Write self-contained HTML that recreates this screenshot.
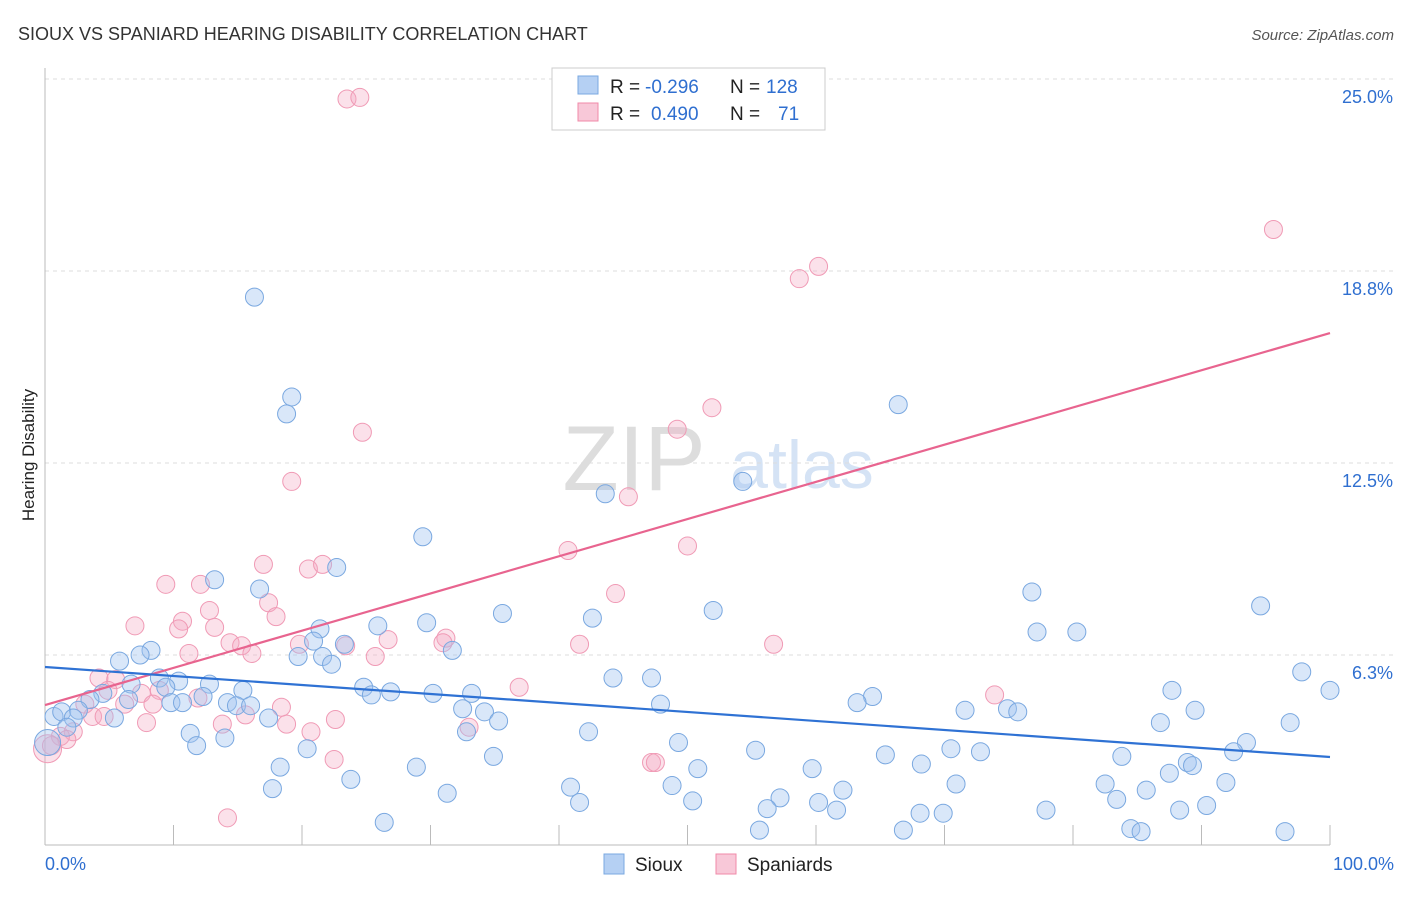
<!DOCTYPE html>
<html><head><meta charset="utf-8"><style>
body{margin:0;background:#fff;font-family:"Liberation Sans",sans-serif}
svg text{font-family:"Liberation Sans",sans-serif}
</style></head><body>
<svg width="1406" height="892" id="chart">
<text x="18" y="40" font-size="18" fill="#333">SIOUX VS SPANIARD HEARING DISABILITY CORRELATION CHART</text>
<text x="1394" y="40" font-size="15" fill="#555" font-style="italic" text-anchor="end">Source: ZipAtlas.com</text>
<text x="34" y="455" font-size="17" fill="#222" text-anchor="middle" transform="rotate(-90 34 455)">Hearing Disability</text>
<g><text x="634" y="490" font-size="92" fill="#ddd" font-family="Liberation Serif" text-anchor="middle">ZIP</text><text x="802" y="488" font-size="68" fill="#d5e3f5" text-anchor="middle">atlas</text></g>
<g id="grid"></g><g id="axes"></g><g id="pts"></g><g id="lines"></g>
<g>
<rect x="552" y="68" width="273" height="62" fill="#fff" stroke="#ccc"/>
<rect x="578" y="76" width="20" height="18" fill="#b5d0f3" stroke="#7aa8e0"/>
<rect x="578" y="103" width="20" height="18" fill="#f8c8d8" stroke="#f08aa8"/>
<text y="93" font-size="19" fill="#222"><tspan x="610">R =</tspan><tspan x="645" fill="#2f6fd0">-0.296</tspan><tspan x="730">N =</tspan><tspan x="766" fill="#2f6fd0">128</tspan></text>
<text y="120" font-size="19" fill="#222"><tspan x="610">R =</tspan><tspan x="651" fill="#2f6fd0">0.490</tspan><tspan x="730">N =</tspan><tspan x="778" fill="#2f6fd0">71</tspan></text>
</g>
<g>
<rect x="604" y="854" width="20" height="20" fill="#b5d0f3" stroke="#7aa8e0"/>
<text x="635" y="871" font-size="19" fill="#222">Sioux</text>
<rect x="716" y="854" width="20" height="20" fill="#f8c8d8" stroke="#f08aa8"/>
<text x="747" y="871" font-size="19" fill="#222">Spaniards</text>
</g>
</svg>
<script>
const yTicks=[6.25,12.5,18.75,25];
const yTickLabels=["6.3%","12.5%","18.8%","25.0%"];
const xTickLabels=["0.0%","100.0%"];
const siouxX=[16.3,19.2,18.8,66.4,43.6,54.3,29.4,22.7,13.2,16.7,76.8,94.6,52.0,35.6,42.6,29.7,25.9,21.4,77.2,80.3,20.9,23.3,31.7,8.25,7.4,19.7,21.6,5.8,22.3,97.8,44.2,47.2,8.9,10.4,6.7,12.8,9.4,24.8,15.4,100,87.7,26.9,25.4,30.2,33.2,64.4,12.3,4.5,3.5,6.5,9.8,10.7,14.2,14.9,16.0,47.9,63.2,32.5,71.6,74.9,75.7,89.5,0.7,1.3,2.6,34.2,17.4,5.4,2.2,35.3,86.8,96.9,1.7,11.3,32.8,42.3,14.0,49.3,93.5,11.8,20.4,55.3,70.5,72.8,92.5,65.4,83.8,34.9,88.9,89.3,68.2,18.3,28.9,50.8,59.7,87.5,23.8,70.9,82.5,91.9,17.7,40.9,48.8,62.1,85.7,31.3,57.2,83.4,41.6,50.4,56.2,60.2,90.4,77.9,88.3,61.6,68.1,69.9,26.4,55.6,66.8,84.5,85.3,96.5,0.2];
const siouxY=[17.9,14.65,14.1,14.4,11.5,11.9,10.1,9.1,8.7,8.4,8.3,7.85,7.7,7.6,7.45,7.3,7.2,7.1,7.0,7.0,6.7,6.6,6.4,6.4,6.25,6.2,6.2,6.05,5.95,5.7,5.5,5.5,5.5,5.4,5.3,5.3,5.2,5.2,5.1,5.1,5.1,5.05,4.95,5.0,5.0,4.9,4.9,5.0,4.8,4.8,4.7,4.7,4.7,4.6,4.6,4.65,4.7,4.5,4.45,4.5,4.4,4.45,4.25,4.4,4.45,4.4,4.2,4.2,4.2,4.1,4.05,4.05,3.9,3.7,3.75,3.75,3.55,3.4,3.4,3.3,3.2,3.15,3.2,3.1,3.1,3.0,2.95,2.95,2.75,2.65,2.7,2.6,2.6,2.55,2.55,2.4,2.2,2.05,2.05,2.1,1.9,1.95,2.0,1.85,1.85,1.75,1.6,1.55,1.45,1.5,1.25,1.45,1.35,1.2,1.2,1.2,1.1,1.1,0.8,0.55,0.55,0.6,0.5,0.5,3.4];
const spanX=[23.5,24.5,95.6,58.7,60.2,51.9,49.2,24.7,19.2,45.4,50.0,40.7,17.0,20.5,21.6,9.4,12.1,44.4,17.4,12.8,17.98,10.7,7.0,10.4,13.2,31.2,26.7,30.97,14.4,15.3,41.6,56.7,23.4,19.8,11.2,16.1,25.7,4.2,5.5,7.5,36.9,73.9,8.9,4.9,6.2,3.1,8.4,11.9,18.4,3.7,4.6,15.6,22.6,7.9,13.8,18.8,20.7,33.0,2.2,1.2,1.7,0.5,47.2,47.5,22.5,14.2,0.2];
const spanY=[24.35,24.4,20.1,18.5,18.9,14.3,13.6,13.5,11.9,11.4,9.8,9.65,9.2,9.05,9.2,8.55,8.55,8.25,7.95,7.7,7.5,7.35,7.2,7.1,7.15,6.8,6.75,6.65,6.65,6.55,6.6,6.6,6.55,6.6,6.3,6.3,6.2,5.5,5.45,5.0,5.2,4.95,5.1,5.1,4.65,4.65,4.65,4.85,4.55,4.25,4.25,4.3,4.15,4.05,4.0,4.0,3.75,3.9,3.75,3.6,3.5,3.3,2.75,2.75,2.85,0.95,3.2];
const siouxTrend=[5.86,2.93];
const spanTrend=[4.62,16.73];
const NS="http://www.w3.org/2000/svg";
const X0=45,X1=1330,Y0=847,PPY=30.72;
function sx(v){return X0+(X1-X0)*v/100}
function sy(v){return Y0-v*PPY}
function mk(t,a,p){const e=document.createElementNS(NS,t);for(const k in a)e.setAttribute(k,a[k]);document.getElementById(p).appendChild(e);return e}
yTicks.forEach((t,i)=>{
 const g=mk('line',{x1:45,x2:1394,y1:sy(t),y2:sy(t),stroke:'#ddd','stroke-dasharray':'4,4'},'grid');
 
 
 const l=mk('text',{x:1393,y:sy(t)+24,'font-size':18,fill:'#2f6fd0','text-anchor':'end'},'grid');
 l.textContent=yTickLabels[i];
 
 
});
const ax=mk('line',{x1:45,x2:45,y1:68,y2:845,stroke:'#bbb'},'axes');


const bx=mk('line',{x1:45,x2:1330,y1:845,y2:845,stroke:'#bbb'},'axes');


for(let i=0;i<=10;i++){
 const t=mk('line',{x1:sx(i*10),x2:sx(i*10),y1:825,y2:845,stroke:'#bbb'},'axes');
 
 
}
[[0,'start',45],[1,'end',1394]].forEach(([i,a,x])=>{
 const l=mk('text',{x:x,y:870,'font-size':18,fill:'#2f6fd0','text-anchor':a},'axes');
 l.textContent=xTickLabels[i];
 
 
});
spanX.forEach((v,i)=>{
 const c=mk('circle',{cx:sx(v),cy:sy(spanY[i]),r:i==spanX.length-1?14:9,fill:'rgba(244,170,196,0.35)',stroke:'#f09ab5','stroke-width':1},'pts');
 
 
});
siouxX.forEach((v,i)=>{
 const c=mk('circle',{cx:sx(v),cy:sy(siouxY[i]),r:i==siouxX.length-1?13:9,fill:'rgba(160,196,240,0.4)',stroke:'#7aa8e0','stroke-width':1},'pts');
 
 
});
const l1=mk('line',{x1:sx(0),y1:sy(spanTrend[0]),x2:sx(100),y2:sy(spanTrend[1]),stroke:'#e8648f','stroke-width':2.2},'lines');


const l2=mk('line',{x1:sx(0),y1:sy(siouxTrend[0]),x2:sx(100),y2:sy(siouxTrend[1]),stroke:'#2f72d4','stroke-width':2.2},'lines');


</script>
</body></html>
